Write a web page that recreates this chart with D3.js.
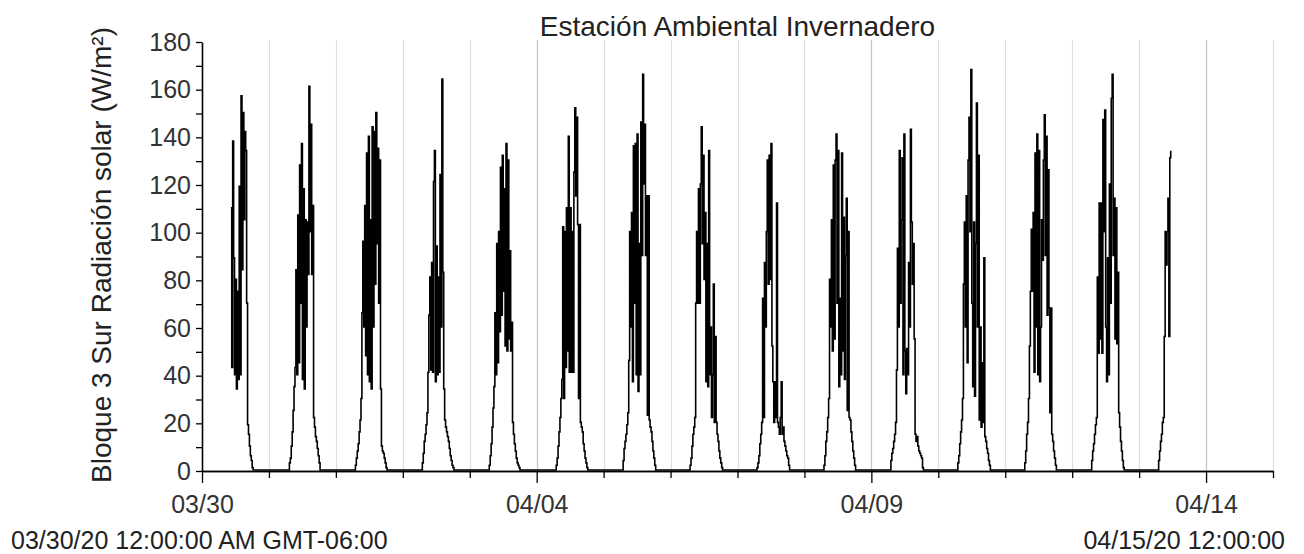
<!DOCTYPE html>
<html>
<head>
<meta charset="utf-8">
<script src="https://cdn.jsdelivr.net/npm/d3@7"></script>
<style>
  body { margin: 0; background: #fff; }
  svg { display: block; font-family: 'Liberation Sans', Arial, sans-serif; }
</style>
</head>
<body>
<svg id="chart" width="1304" height="554"></svg>
<script>
// Days with readings and the time of the first reading kept for that day
const dayDates = ['2020-03-30', '2020-03-31', '2020-04-01', '2020-04-02', '2020-04-03',
    '2020-04-04', '2020-04-05', '2020-04-06', '2020-04-07', '2020-04-08',
    '2020-04-09', '2020-04-10', '2020-04-11', '2020-04-12', '2020-04-13'];
const firstReading = ['10:20', '06:40', '06:40', '06:40', '06:40', '06:40', '06:40', '06:40',
    '06:40', '06:40', '06:40', '06:40', '06:40', '06:40', '06:40'];
const stepMinutes = 20;

// Solar radiation (W/m²), one reading every 20 minutes
const r0330 = [110, 43, 138, 89, 40, 80, 34, 75, 38, 119, 40, 157, 84, 150, 105, 142, 134, 70, 19, 15, 10, 6, 4, 1, 0, 0];
const r0331 = [0, 0, 3, 5, 10, 16, 25, 35, 43, 84, 40, 107, 45, 128, 70, 137, 38, 118, 34, 105, 60, 104, 82, 161, 100, 145, 82, 111, 22, 18, 14, 12, 9, 6, 3, 0, 0];
const r0401 = [0, 2, 5, 8, 11, 16, 21, 30, 66, 96, 60, 111, 48, 133, 40, 140, 37, 105, 34, 144, 60, 142, 78, 150, 95, 135, 70, 130, 34, 10, 8, 7, 5, 3, 1, 0, 0];
const r0402 = [0, 3, 7, 12, 15, 19, 24, 41, 65, 81, 42, 87, 41, 121, 134, 37, 94, 40, 81, 41, 124, 60, 164, 83, 34, 21, 18, 16, 14, 12, 9, 6, 4, 2, 1, 0, 0];
const r0403 = [0, 2, 6, 11, 18, 26, 35, 66, 40, 95, 45, 100, 58, 127, 65, 132, 75, 118, 52, 137, 50, 130, 55, 92, 50, 62, 20, 15, 11, 8, 5, 3, 2, 1, 0, 0, 0];
const r0404 = [0, 2, 5, 10, 16, 22, 30, 38, 102, 30, 100, 43, 110, 50, 140, 41, 110, 41, 100, 41, 125, 152, 115, 148, 103, 30, 103, 20, 18, 16, 11, 8, 5, 3, 1, 0, 0];
const r0405 = [0, 4, 9, 12, 15, 19, 24, 46, 100, 60, 108, 37, 136, 70, 137, 40, 141, 33, 95, 40, 146, 90, 166, 120, 145, 90, 115, 23, 115, 21, 18, 16, 12, 8, 5, 2, 0];
const r0406 = [0, 2, 5, 10, 15, 18, 22, 70, 100, 70, 118, 70, 120, 144, 95, 132, 80, 108, 37, 95, 35, 134, 40, 60, 22, 40, 78, 20, 56, 20, 15, 12, 8, 5, 3, 1, 0];
const r0407 = [0, 1, 3, 6, 11, 15, 20, 72, 22, 87, 60, 100, 130, 78, 132, 80, 137, 52, 37, 20, 37, 22, 112, 20, 18, 15, 22, 37, 15, 18, 12, 10, 8, 6, 5, 2, 0];
const r0408 = [0, 2, 6, 12, 16, 22, 30, 80, 60, 105, 50, 128, 55, 130, 141, 70, 134, 35, 72, 40, 133, 50, 106, 38, 90, 114, 25, 100, 22, 21, 16, 12, 8, 5, 2, 0, 0];
const r0409 = [0, 4, 7, 9, 12, 15, 20, 42, 93, 60, 134, 70, 105, 131, 40, 141, 50, 32, 51, 40, 87, 60, 143, 104, 78, 95, 55, 15, 12, 14, 10, 8, 7, 6, 5, 1, 0];
const r0410 = [0, 3, 6, 11, 16, 21, 30, 78, 104, 60, 115, 45, 130, 148, 100, 168, 70, 35, 104, 31, 95, 154, 60, 132, 21, 60, 18, 45, 20, 89, 14, 12, 9, 7, 4, 2, 0];
const r0411 = [0, 3, 8, 15, 20, 30, 52, 75, 101, 75, 108, 41, 133, 60, 141, 40, 134, 37, 60, 105, 88, 130, 149, 90, 140, 65, 126, 68, 24, 68, 15, 12, 8, 5, 2, 0, 0];
const r0412 = [0, 4, 8, 11, 15, 19, 22, 81, 49, 112, 55, 112, 49, 147, 100, 151, 60, 37, 89, 40, 120, 70, 156, 166, 90, 114, 55, 110, 53, 83, 24, 18, 12, 8, 4, 1, 0];
const r0413 = [0, 4, 8, 12, 15, 20, 22, 56, 100, 86, 100, 114, 56, 131, 134];
const dailyReadings = [r0330, r0331, r0401, r0402, r0403, r0404, r0405, r0406, r0407,
    r0408, r0409, r0410, r0411, r0412, r0413];

// Axes
const xRange = ['2020-03-30', '2020-04-15'];
const labelledDays = ['2020-03-30', '2020-04-04', '2020-04-09', '2020-04-14'];
const yTickValues = [0, 10, 20, 30, 40, 50, 60, 70, 80, 90, 100, 110, 120, 130, 140, 150, 160, 170, 180];
const yLabelled = [0, 20, 40, 60, 80, 100, 120, 140, 160, 180];

const title = 'Estación Ambiental Invernadero';
const yTitle = 'Bloque 3 Sur Radiación solar (W/m²)';
const startText = '03/30/20 12:00:00 AM GMT-06:00';
const endText = '04/15/20 12:00:00';

const utc = (s) => new Date(s + 'T00:00:00Z');

// Flatten the daily lists into one time series
const series = [];
dailyReadings.forEach((vals, k) => {
    const [hh, mm] = firstReading[k].split(':').map(Number);
    const base = utc(dayDates[k]).getTime();
    vals.forEach((v, i) => {
        series.push({ t: new Date(base + (hh * 60 + mm + i * stepMinutes) * 60000), v });
    });
});

const svg = d3.select('#chart');
const plot = { left: 202, right: 1273, top: 42, bottom: 471 };

const x = d3.scaleUtc().domain(xRange.map(utc)).range([plot.left, plot.right]);
const y = d3.scaleLinear().domain([0, 180]).range([plot.bottom, plot.top]);

const dayTicks = d3.utcDay.range(utc(xRange[0]), d3.utcDay.offset(utc(xRange[1]), 1));
const majorTicks = labelledDays.map(utc);
const isMajor = (d) => majorTicks.some((m) => +m === +d);

// Vertical day grid lines
svg.append('g')
    .selectAll('line')
    .data(dayTicks.filter((d) => +d !== +utc(xRange[0])))
    .enter().append('line')
    .attr('x1', (d) => Math.round(x(d)) + 0.5)
    .attr('x2', (d) => Math.round(x(d)) + 0.5)
    .attr('y1', plot.top - 2)
    .attr('y2', plot.bottom)
    .attr('stroke', (d) => isMajor(d) ? '#c4c4c4' : '#dedede')
    .attr('stroke-width', 1.2);

// Data line
const line = d3.line()
    .x((d) => x(d.t))
    .y((d) => y(d.v) - 1)
    .curve(d3.curveStepAfter);

svg.append('path')
    .datum(series)
    .attr('fill', 'none')
    .attr('stroke', '#000')
    .attr('stroke-width', 1.6)
    .attr('d', line);

// X axis: minor ticks every day, major ticks with labels
const styleAxis = (g) => {
    g.selectAll('.domain').attr('stroke', '#000').attr('stroke-width', 1.6);
    g.selectAll('.tick line').attr('stroke', '#000').attr('stroke-width', 1.3);
    g.selectAll('text')
        .attr('fill', '#333')
        .attr('font-family', "'Liberation Sans', Arial, sans-serif")
        .attr('font-size', 25);
};

svg.append('g')
    .attr('transform', `translate(0,${plot.bottom})`)
    .call(d3.axisBottom(x).tickValues(dayTicks.filter((d) => !isMajor(d) && d <= x.domain()[1]))
        .tickSize(7).tickFormat('').tickSizeOuter(0))
    .call(styleAxis);

svg.append('g')
    .attr('transform', `translate(0,${plot.bottom})`)
    .call(d3.axisBottom(x).tickValues(majorTicks).tickSize(12).tickPadding(12)
        .tickFormat(d3.utcFormat('%m/%d')).tickSizeOuter(0))
    .call(styleAxis);

// Y axis
svg.append('g')
    .attr('transform', `translate(${plot.left},0)`)
    .call(d3.axisLeft(y).tickValues(yTickValues).tickSize(6).tickPadding(5)
        .tickFormat((d) => yLabelled.includes(d) ? d : '').tickSizeOuter(0))
    .call(styleAxis);

// Titles
svg.append('text')
    .attr('x', (plot.left + plot.right) / 2)
    .attr('y', 36)
    .attr('text-anchor', 'middle')
    .attr('font-size', 28)
    .attr('fill', '#222')
    .text(title);

svg.append('text')
    .attr('transform', 'translate(111,255) rotate(-90)')
    .attr('text-anchor', 'middle')
    .attr('font-size', 28)
    .attr('fill', '#222')
    .text(yTitle);

svg.append('text')
    .attr('x', 11)
    .attr('y', 549)
    .attr('font-size', 25)
    .attr('fill', '#222')
    .text(startText);

svg.append('text')
    .attr('x', 1285)
    .attr('y', 549)
    .attr('text-anchor', 'end')
    .attr('font-size', 25)
    .attr('fill', '#222')
    .text(endText);
</script>
</body>
</html>
